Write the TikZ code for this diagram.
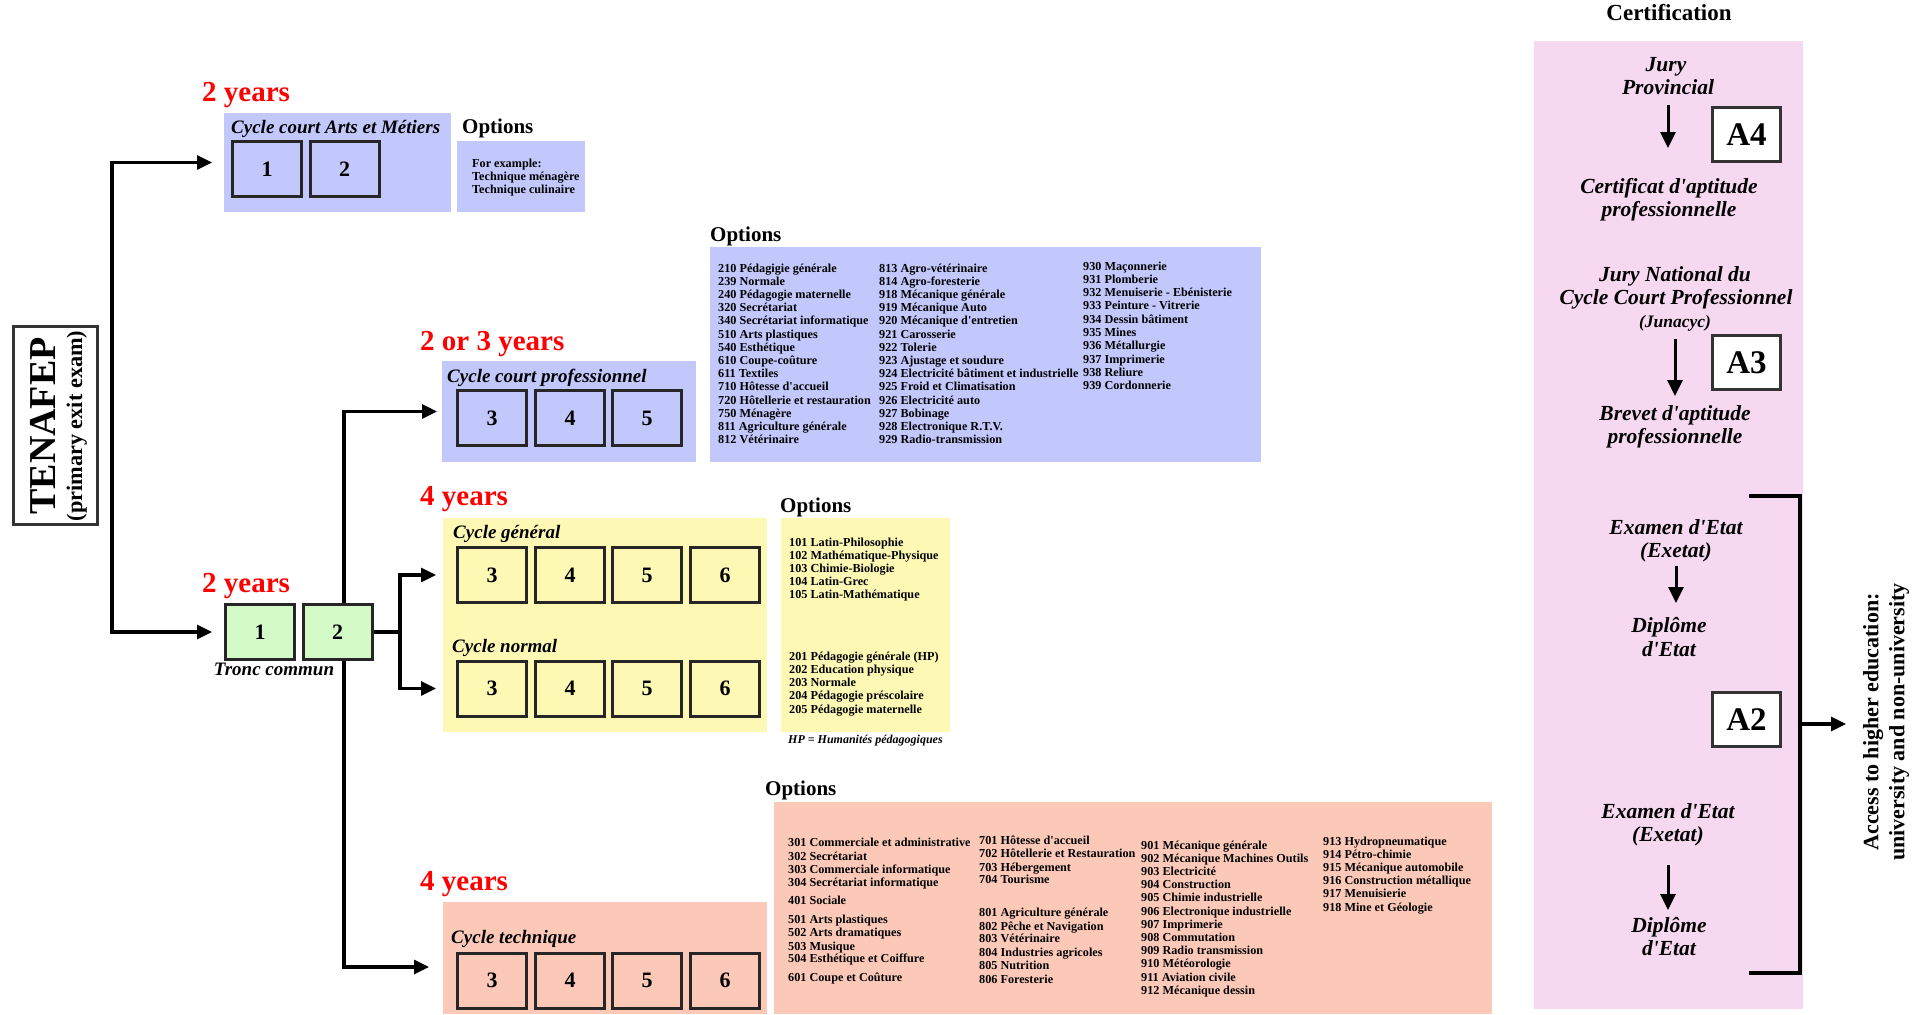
\documentclass[tikz,border=0pt]{standalone}
\usepackage{fontspec}
\setmainfont{Liberation Serif}[Ligatures=TeXOff]
\usetikzlibrary{arrows.meta,calc}
\definecolor{cblue}{HTML}{C2C8FC}
\definecolor{cyellow}{HTML}{FDF9B5}
\definecolor{csalmon}{HTML}{FCC9B9}
\definecolor{cgreen}{HTML}{D3FAC7}
\definecolor{cpink}{HTML}{F6D8F1}
\definecolor{cred}{HTML}{FF0000}
\newcommand{\setfs}[1]{\fontsize{#1}{#1}\selectfont}
\pgfdeclarelayer{lines}
\pgfsetlayers{lines,main}
\begin{document}
\begin{tikzpicture}[x=1pt,y=-1pt,
 bgbox/.style={draw=none,inner sep=0,outer sep=0},
 numbox/.style={draw=black!85,line width=3pt,minimum width=69pt,minimum height=55pt,inner sep=0,font=\bfseries\setfs{22}},
 yrs/.style={anchor=base west,inner sep=0,text=cred,font=\bfseries\setfs{29}},
 cyc/.style={anchor=base west,inner sep=0,font=\bfseries\itshape\setfs{19}},
 opth/.style={anchor=base west,inner sep=0,font=\bfseries\setfs{21}},
 opt/.style={anchor=base west,inner sep=0,font=\bfseries\setfs{12.2}},
 cert/.style={anchor=base,inner sep=0,font=\bfseries\itshape\setfs{21.5}},
 abox/.style={draw=black!80,fill=white,line width=3pt,minimum width=68pt,minimum height=54pt,inner sep=0,font=\bfseries\setfs{33}},
 conn/.style={line width=3.2pt},
 arr/.style={line width=3.2pt,-{Triangle[length=15pt,width=14pt]}},
 arrtwo/.style={line width=3.2pt,{Triangle[length=15pt,width=14pt]}-{Triangle[length=15pt,width=14pt]}},
 carr/.style={line width=3pt,-{Triangle[length=16pt,width=15pt]}}
]
\useasboundingbox (0,0) rectangle (1926,1014);

% backgrounds
\node[bgbox,fill=cpink,minimum width=269pt,minimum height=968pt] (certbg) at (1668.5,525) {};
\node[bgbox,fill=cblue,minimum width=227pt,minimum height=99pt] (artsbg) at (337.5,162.5) {};
\node[bgbox,fill=cblue,minimum width=128pt,minimum height=71pt] (artsopt) at (521,176.5) {};
\node[bgbox,fill=cblue,minimum width=254pt,minimum height=101pt] (cpbg) at (569,411.5) {};
\node[bgbox,fill=cblue,minimum width=551pt,minimum height=215pt] (cpopt) at (985.5,354.5) {};
\node[bgbox,fill=cyellow,minimum width=324pt,minimum height=214pt] (genbg) at (605,625) {};
\node[bgbox,fill=cyellow,minimum width=169pt,minimum height=214pt] (genopt) at (865.5,625) {};
\node[bgbox,fill=csalmon,minimum width=324pt,minimum height=112pt] (techbg) at (605,958) {};
\node[bgbox,fill=csalmon,minimum width=718pt,minimum height=212pt] (techopt) at (1133,908) {};

% TENAFEP
\node[draw=black!80,line width=3pt,fill=white,minimum width=84pt,minimum height=198pt,inner sep=0] (tenbox) at (55.5,425.5) {};
\node[rotate=90,anchor=base,inner sep=0,font=\bfseries\setfs{38}] (ten1) at (55,426) {TENAFEP};
\node[rotate=90,anchor=base,inner sep=0,font=\bfseries\setfs{22.3}] (ten2) at (82,426) {(primary exit exam)};

% numbered boxes
\node[numbox] (ar1) at (267,169) {1};
\node[numbox] (ar2) at (344.5,169) {2};
\node[numbox,fill=cgreen] (tc1) at (260,632) {1};
\node[numbox,fill=cgreen] (tc2) at (337.5,632) {2};
\node[numbox] (cp3) at (492,418) {3};
\node[numbox] (cp4) at (570,418) {4};
\node[numbox] (cp5) at (647,418) {5};
\node[numbox] (ge3) at (492,575) {3};
\node[numbox] (ge4) at (570,575) {4};
\node[numbox] (ge5) at (647,575) {5};
\node[numbox] (ge6) at (725,575) {6};
\node[numbox] (no3) at (492,688.5) {3};
\node[numbox] (no4) at (570,688.5) {4};
\node[numbox] (no5) at (647,688.5) {5};
\node[numbox] (no6) at (725,688.5) {6};
\node[numbox] (te3) at (492,980.5) {3};
\node[numbox] (te4) at (570,980.5) {4};
\node[numbox] (te5) at (647,980.5) {5};
\node[numbox] (te6) at (725,980.5) {6};

% connectors (left part), drawn below the boxes
\coordinate (trunk) at (112,162.5);
\coordinate (fk) at (400,632);
\coordinate (vx) at (344,632);
\coordinate (techin) at (429,967);
\begin{pgfonlayer}{lines}
\draw[arrtwo,shorten <=12pt,shorten >=12pt] (artsbg.west) -- (trunk) |- (tc1.west);
\draw[conn] (tc2.east) -- (fk);
\draw[arrtwo,shorten <=20pt,shorten >=20pt] (ge3.west) -| (fk) |- (no3.west);
\draw[arrtwo,shorten <=5pt] (cpbg.west) -| (vx) |- (techin);
\end{pgfonlayer}

% red year labels
\node[yrs] (y1) at (202,102) {2 years};
\node[yrs] (y2) at (202,592) {2 years};
\node[yrs] (y3) at (420,350) {2 or 3 years};
\node[yrs] (y4) at (420,505) {4 years};
\node[yrs] (y5) at (420,890) {4 years};

% cycle labels
\node[cyc] (l1) at (231,133) {Cycle court Arts et Métiers};
\node[cyc] (l2) at (447,382) {Cycle court professionnel};
\node[cyc] (l3) at (453,538) {Cycle général};
\node[cyc] (l4) at (452,652) {Cycle normal};
\node[cyc] (l5) at (451,943) {Cycle technique};
\node[anchor=base,inner sep=0,font=\bfseries\itshape\setfs{19}] (tronc) at (274,675) {Tronc commun};

% options headings
\node[opth] (oh1) at (462,134) {Options};
\node[opth] (oh2) at (710,241) {Options};
\node[opth] (oh3) at (780,512) {Options};
\node[opth] (oh4) at (765,795) {Options};

% arts options
\node[opt] (ao1) at (472,167) {For example:};
\node[opt] (ao2) at (472,180) {Technique ménagère};
\node[opt] (ao3) at (472,193) {Technique culinaire};

% cycle court professionnel options
\foreach \t [count=\i] in {210 Pédagigie générale,239 Normale,240 Pédagogie maternelle,320 Secrétariat,340 Secrétariat informatique,510 Arts plastiques,540 Esthétique,610 Coupe-coûture,611 Textiles,710 Hôtesse d'accueil,720 Hôtellerie et restauration,750 Ménagère,811 Agriculture générale,812 Vétérinaire}
  \node[opt] (pa\i) at (718,{272+13.2*(\i-1)}) {\t};
\foreach \t [count=\i] in {813 Agro-vétérinaire,814 Agro-foresterie,918 Mécanique générale,919 Mécanique Auto,920 Mécanique d'entretien,921 Carosserie,922 Tolerie,923 Ajustage et soudure,924 Electricité bâtiment et industrielle,925 Froid et Climatisation,926 Electricité auto,927 Bobinage,928 Electronique R.T.V.,929 Radio-transmission}
  \node[opt] (pb\i) at (879,{272+13.2*(\i-1)}) {\t};
\foreach \t [count=\i] in {930 Maçonnerie,931 Plomberie,932 Menuiserie - Ebénisterie,933 Peinture - Vitrerie,934 Dessin bâtiment,935 Mines,936 Métallurgie,937 Imprimerie,938 Reliure,939 Cordonnerie}
  \node[opt] (pc\i) at (1083,{270+13.3*(\i-1)}) {\t};

% general / normal options
\foreach \t [count=\i] in {101 Latin-Philosophie,102 Mathématique-Physique,103 Chimie-Biologie,104 Latin-Grec,105 Latin-Mathématique}
  \node[opt] (ga\i) at (789,{546+13*(\i-1)}) {\t};
\foreach \t [count=\i] in {201 Pédagogie générale (HP),202 Education physique,203 Normale,204 Pédagogie préscolaire,205 Pédagogie maternelle}
  \node[opt] (gb\i) at (789,{660+13.25*(\i-1)}) {\t};
\node[opt,font=\bfseries\itshape\setfs{12}] (hp) at (788,743) {HP = Humanités pédagogiques};

% technique options
\foreach \yy/\t [count=\i] in {846/301 Commerciale et administrative,860/302 Secrétariat,873/303 Commerciale informatique,886/304 Secrétariat informatique,904/401 Sociale,923/501 Arts plastiques,936/502 Arts dramatiques,950/503 Musique,962/504 Esthétique et Coiffure,981/601 Coupe et Coûture}
  \node[opt] (ta\i) at (788,\yy) {\t};
\foreach \yy/\t [count=\i] in {844/701 Hôtesse d'accueil,857/702 Hôtellerie et Restauration,871/703 Hébergement,883/704 Tourisme,916/801 Agriculture générale,930/802 Pêche et Navigation,942/803 Vétérinaire,956/804 Industries agricoles,969/805 Nutrition,983/806 Foresterie}
  \node[opt] (tb\i) at (979,\yy) {\t};
\foreach \t [count=\i] in {901 Mécanique générale,902 Mécanique Machines Outils,903 Electricité,904 Construction,905 Chimie industrielle,906 Electronique industrielle,907 Imprimerie,908 Commutation,909 Radio transmission,910 Météorologie,911 Aviation civile,912 Mécanique dessin}
  \node[opt] (tx\i) at (1141,{849+13.2*(\i-1)}) {\t};
\foreach \t [count=\i] in {913 Hydropneumatique,914 Pétro-chimie,915 Mécanique automobile,916 Construction métallique,917 Menuisierie,918 Mine et Géologie}
  \node[opt] (td\i) at (1323,{845+13.2*(\i-1)}) {\t};

% certification column
\node[anchor=base,inner sep=0,font=\bfseries\setfs{23}] (certh) at (1669,21) {Certification};
\node[cert] (jury) at (1666,72) {Jury};
\node[cert] (prov) at (1668,95) {Provincial};
\node[cert] (cer1) at (1669,193) {Certificat d'aptitude};
\node[cert] (cer2) at (1669,216) {professionnelle};
\node[cert] (jn1) at (1675,281) {Jury National du};
\node[cert] (jn2) at (1676,304) {Cycle Court Professionnel};
\node[cert,font=\bfseries\itshape\setfs{17.5}] (jun) at (1675,327) {(Junacyc)};
\node[cert] (br1) at (1675,420) {Brevet d'aptitude};
\node[cert] (br2) at (1675,443) {professionnelle};
\node[cert] (ex1a) at (1676,534) {Examen d'Etat};
\node[cert] (ex1b) at (1676,557) {(Exetat)};
\node[cert] (di1a) at (1669,632) {Diplôme};
\node[cert] (di1b) at (1669,656) {d'Etat};
\node[cert] (ex2a) at (1668,818) {Examen d'Etat};
\node[cert] (ex2b) at (1668,841) {(Exetat)};
\node[cert] (di2a) at (1669,932) {Diplôme};
\node[cert] (di2b) at (1669,955) {d'Etat};

\node[abox] (a4) at (1746.5,134.5) {A4};
\node[abox] (a3) at (1746.5,362.5) {A3};
\node[abox] (a2) at (1746.5,719.5) {A2};

\draw[carr] ($(prov.base)+(0,10)$) -- ($(prov.base |- cer1.base)+(0,-45)$);
\draw[carr] ($(jun.base)+(0,12)$) -- ($(jun.base |- br1.base)+(0,-24)$);
\draw[carr] ($(ex1b.base)+(0,9)$) -- ($(ex1b.base |- di1a.base)+(0,-29)$);
\draw[carr] ($(ex2b.base)+(0,24)$) -- ($(ex2b.base |- di2a.base)+(0,-22)$);

% bracket and access arrow
\coordinate (brt) at (1749,496);
\coordinate (brb) at (1749,973);
\coordinate (brm) at (1800,724);
\coordinate (acc) at (1846,724);
\draw[conn] (brt) -- ++(51,0) |- (brb);
\draw[arr] (brm) -- (acc);
\node[rotate=90,align=center,inner sep=0,font=\bfseries\fontsize{22}{26}\selectfont] (access) at (1886,722) {Access to higher education:\\university and non-university};
\end{tikzpicture}
\end{document}
